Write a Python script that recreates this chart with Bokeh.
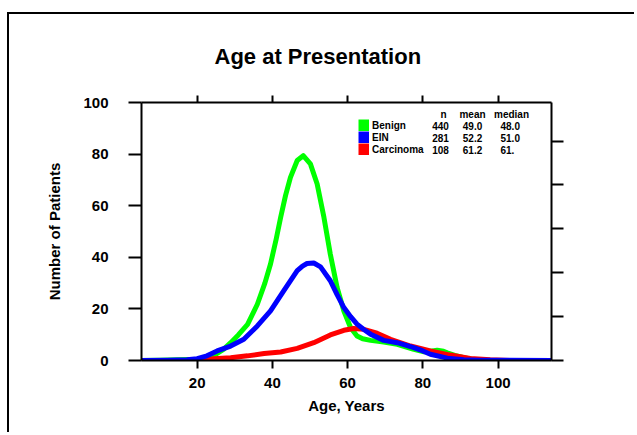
from bokeh.plotting import figure
from bokeh.models import (Range1d, LinearAxis, FixedTicker, CustomJSTickFormatter,
                          Legend, LegendItem, Label, Title)
from bokeh.embed import file_html
from bokeh.resources import INLINE

# ---- data ----
age_benign = [5, 10, 15, 20, 22.6, 25, 27, 29, 31, 33.4, 36, 38, 39.5, 41, 42.2, 43.5, 44.8,
              46.6, 48.2, 50.1, 51.9, 53.7, 55.4, 57.2, 59, 60.8, 62.5, 64, 66.1, 69.6, 73.2,
              77.6, 80.3, 82, 83.8, 85.5, 86.5, 88.5, 90.9, 93, 95.3, 100, 115]
cnt_benign = [0, 0.1, 0.3, 0.5, 1.1, 2.5, 4.3, 7, 10, 14, 21.8, 30, 37.4, 47, 55.5, 64, 71,
              77.5, 79.4, 76.2, 68.4, 55.5, 41.2, 28.3, 19.2, 12.7, 9.5, 8.4, 7.8, 7.2, 6.3,
              4.3, 3.4, 3.6, 4.0, 3.6, 3.0, 2.0, 1.1, 0.5, 0.1, 0, 0]

age_ein = [5, 12, 17.3, 20, 22.6, 25.3, 28.9, 32.4, 36, 39.5, 43, 46.6, 48, 49.2, 51, 52.8, 55.4,
           57.2, 59, 60.8, 62.5, 64.3, 66.1, 69.6, 73.2, 77.6, 80, 82, 86.5, 90.9, 95.3, 115]
cnt_ein = [0, 0.1, 0.3, 0.7, 1.8, 3.7, 5.6, 8.2, 13.4, 19.2, 27, 34.8, 36.6, 37.6, 37.8, 36.3, 30.9,
           25.5, 20.5, 17, 14.1, 12, 10.2, 7.8, 6.9, 5, 3.7, 2.4, 0.9, 0.3, 0.1, 0]

age_carc = [5, 18, 21, 24.4, 28.9, 33.4, 37.8, 42.2, 46.6, 51, 55.4, 59, 61.6, 64.3, 67.8,
            71.4, 76.7, 82, 87.3, 92.6, 97.9, 103, 115]
cnt_carc = [0, 0, 0.2, 0.7, 1.1, 1.8, 2.7, 3.3, 4.7, 6.9, 9.9, 11.7, 12.4, 12.1, 10.6,
            8.2, 5.6, 3.7, 2.1, 0.8, 0.3, 0, 0]

groups = ["Benign", "EIN", "Carcinoma"]
n_vals = ["440", "281", "108"]
mean_vals = ["49.0", "52.2", "61.2"]
median_vals = ["48.0", "51.0", "61."]
stat_headers = ["n", "mean", "median"]

x_ticks = [20, 40, 60, 80, 100]
y_ticks = [0, 20, 40, 60, 80, 100]
right_ticks = [0, 1, 2, 3, 4, 5]

FONT = "Liberation Sans"
colors = ["#00ff00", "#0000ff", "#ff0000"]

p = figure(width=627, height=420, x_range=Range1d(5.2, 114.2), y_range=Range1d(0, 100),
           output_backend="svg", toolbar_location=None,
           min_border_left=132, min_border_right=85, min_border_top=87, min_border_bottom=74)
p.styles = {"border-left": "2px solid black", "border-top": "2px solid black"}
p.margin = (12, 0, 0, 7)
p.outline_line_color = None
p.xgrid.grid_line_color = None
p.ygrid.grid_line_color = None
p.background_fill_color = "white"
p.border_fill_color = "white"

p.title = Title(text="Age at Presentation", align="left", offset=73, text_font=FONT,
                text_font_size="22px", text_font_style="bold", text_color="black", standoff=54)


def style_axis(ax, tick_out, standoff):
    ax.axis_line_width = 2
    ax.axis_line_color = "black"
    ax.major_tick_line_width = 2
    ax.major_tick_line_color = "black"
    ax.major_tick_out = tick_out
    ax.major_tick_in = 0
    ax.minor_tick_out = 0
    ax.minor_tick_in = 0
    ax.major_label_standoff = standoff
    ax.major_label_text_font = FONT
    ax.major_label_text_font_size = "15px"
    ax.major_label_text_font_style = "bold"
    ax.major_label_text_color = "black"
    ax.axis_label_text_font = FONT
    ax.axis_label_text_font_size = "15px"
    ax.axis_label_text_font_style = "bold"
    ax.axis_label_text_color = "black"


xa = p.xaxis[0]
xa.ticker = FixedTicker(ticks=x_ticks)
xa.axis_label = "Age, Years"
style_axis(xa, 8, 9)
xa.axis_label_standoff = 6

ya = p.yaxis[0]
ya.ticker = FixedTicker(ticks=y_ticks)
ya.axis_label = "Number of Patients"
style_axis(ya, 13, 20)
ya.axis_label_standoff = 17

top = LinearAxis(ticker=FixedTicker(ticks=x_ticks), formatter=CustomJSTickFormatter(code="return ''"))
style_axis(top, 7, 0)
p.add_layout(top, "above")

p.extra_y_ranges = {"r": Range1d(0, 5.88)}
right = LinearAxis(y_range_name="r", ticker=FixedTicker(ticks=right_ticks),
                   formatter=CustomJSTickFormatter(code="return ''"))
style_axis(right, 12, 0)
p.add_layout(right, "right")

# curves
series = {"Benign": (age_benign, cnt_benign, colors[0]),
          "EIN": (age_ein, cnt_ein, colors[1]),
          "Carcinoma": (age_carc, cnt_carc, colors[2])}
for name in ["Benign", "Carcinoma", "EIN"]:
    ages, cnts, col = series[name]
    p.line(ages, cnts, line_color=col, line_width=5, line_join="round", line_cap="round")

# legend (colour blocks + names): hidden wide-line renderers give square swatches
items = []
for name in groups:
    ages, cnts, col = series[name]
    r = p.line(ages, cnts, line_color=col, line_width=12, visible=False)
    items.append(LegendItem(label=name, renderers=[r]))
legend = Legend(items=items, location=(217, 205), padding=0, margin=0, spacing=0,
                glyph_width=11, glyph_height=12, label_height=12, label_standoff=3,
                label_text_font=FONT, label_text_font_size="10px",
                label_text_font_style="bold", label_text_color="black",
                border_line_color=None, background_fill_alpha=0)
p.add_layout(legend, "center")

# statistics table
def lab(x, y, text, align):
    p.add_layout(Label(x=x, y=y, x_units="screen", y_units="screen", text=text,
                       text_align=align, text_baseline="middle", text_font=FONT,
                       text_font_size="10px", text_font_style="bold", text_color="black"))

head_x = [302, 331, 370]
for hx, h in zip(head_x, stat_headers):
    lab(hx, 246, h, "center")
row_y = [235, 223, 211]
for ry, nv, mv, dv in zip(row_y, n_vals, mean_vals, median_vals):
    lab(299, ry, nv, "center")
    lab(331, ry, mv, "center")
    lab(359, ry, dv, "left")

open("out.html", "w").write(file_html(p, INLINE))
